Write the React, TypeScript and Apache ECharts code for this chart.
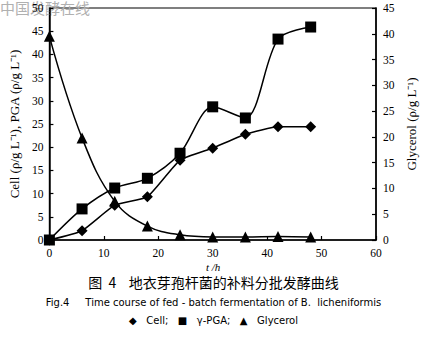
import React, { useEffect, useRef } from "react";
import * as echarts from "echarts";

const timeH = [0, 6, 12, 18, 24, 30, 36, 42, 48];
const cell = [0, 2, 7.5, 9.3, 17.2, 19.8, 22.8, 24.4, 24.4];
const pga = [0, 6.7, 11.2, 13.3, 18.7, 28.7, 26.3, 43.3, 45.9];
const glycerol = [39.5, 19.8, 7.5, 2.7, 1.0, 0.6, 0.6, 0.7, 0.6];

const serif = "Liberation Serif";

export default function App() {
  const ref = useRef<HTMLDivElement>(null);
  useEffect(() => {
    const chart = echarts.init(ref.current!, undefined, { renderer: "svg" });
    const axisCommon = {
      axisLine: { show: true, lineStyle: { color: "#000", width: 1.5 } },
      axisTick: { show: true, inside: true, length: 4, lineStyle: { color: "#000", width: 1.2 } },
      splitLine: { show: false },
      axisLabel: { color: "#000", fontFamily: serif, fontSize: 11.5 },
    };
    chart.setOption({
      animation: false,
      backgroundColor: "#fff",
      grid: { left: 49, right: 51, top: 8, bottom: 103, show: true, borderColor: "#000", borderWidth: 1.2, backgroundColor: "transparent" },
      xAxis: {
        type: "value",
        min: 0,
        max: 60,
        interval: 10,
        ...axisCommon,
        axisLabel: { ...axisCommon.axisLabel, margin: 7 },
      },
      yAxis: [
        {
          type: "value",
          min: 0,
          max: 50,
          interval: 5,
          position: "left",
          ...axisCommon,
          axisLabel: { ...axisCommon.axisLabel, margin: 6 },
          name: "Cell (ρ/g L⁻¹), PGA (ρ/g L⁻¹)",
          nameLocation: "middle",
          nameGap: 27,
          nameRotate: 90,
          nameTextStyle: { color: "#000", fontFamily: serif, fontSize: 13 },
        },
        {
          type: "value",
          min: 0,
          max: 45,
          interval: 5,
          position: "right",
          ...axisCommon,
          axisLabel: { ...axisCommon.axisLabel, margin: 7 },
          name: "Glycerol (ρ/g L⁻¹)",
          nameLocation: "middle",
          nameGap: 27,
          nameRotate: 90,
          nameTextStyle: { color: "#000", fontFamily: serif, fontSize: 13, padding: [0, 0, 10, 0] },
        },
      ],
      series: [
        {
          name: "Cell",
          type: "line",
          yAxisIndex: 0,
          data: timeH.map((t, i) => [t, cell[i]]),
          symbol: "diamond",
          symbolSize: 11,
          smooth: 0.15,
          lineStyle: { color: "#000", width: 1.5 },
          itemStyle: { color: "#000" },
        },
        {
          name: "γ-PGA",
          type: "line",
          yAxisIndex: 0,
          data: timeH.map((t, i) => [t, pga[i]]),
          symbol: "rect",
          symbolSize: 11,
          smooth: 0.3,
          lineStyle: { color: "#000", width: 1.5 },
          itemStyle: { color: "#000" },
        },
        {
          name: "Glycerol",
          type: "line",
          yAxisIndex: 1,
          data: timeH.map((t, i) => [t, glycerol[i]]),
          symbol: "triangle",
          symbolSize: 11,
          smooth: 0.4,
          lineStyle: { color: "#000", width: 1.5 },
          itemStyle: { color: "#000" },
        },
      ],
      graphic: [
        {
          type: "text",
          left: 0,
          top: 0,
          style: { text: "中国发酵在线", fill: "#b0b0b0", font: '15px "Noto Sans CJK SC"' },
        },
        {
          type: "text",
          left: 206,
          top: 261,
          style: { text: "t /h", fill: "#000", font: 'italic 11px "Liberation Serif"' },
        },
        {
          type: "text",
          left: "center",
          top: 275,
          style: { text: "图  4    地衣芽孢杆菌的补料分批发酵曲线", fill: "#000", font: '14px "Noto Sans CJK SC"' },
        },
        {
          type: "text",
          left: "center",
          top: 297,
          style: { text: "Fig.4     Time course of fed - batch fermentation of B.  licheniformis", fill: "#000", font: '10px "DejaVu Sans"' },
        },
        {
          type: "text",
          left: "center",
          top: 315,
          style: { text: "◆   Cell;   ■   γ-PGA;   ▲   Glycerol", fill: "#000", font: '10px "DejaVu Sans"' },
        },
      ],
    });
    return () => chart.dispose();
  }, []);
  return <div ref={ref} style={{ width: 427, height: 343, position: "absolute", left: 0, top: 0 }} />;
}
